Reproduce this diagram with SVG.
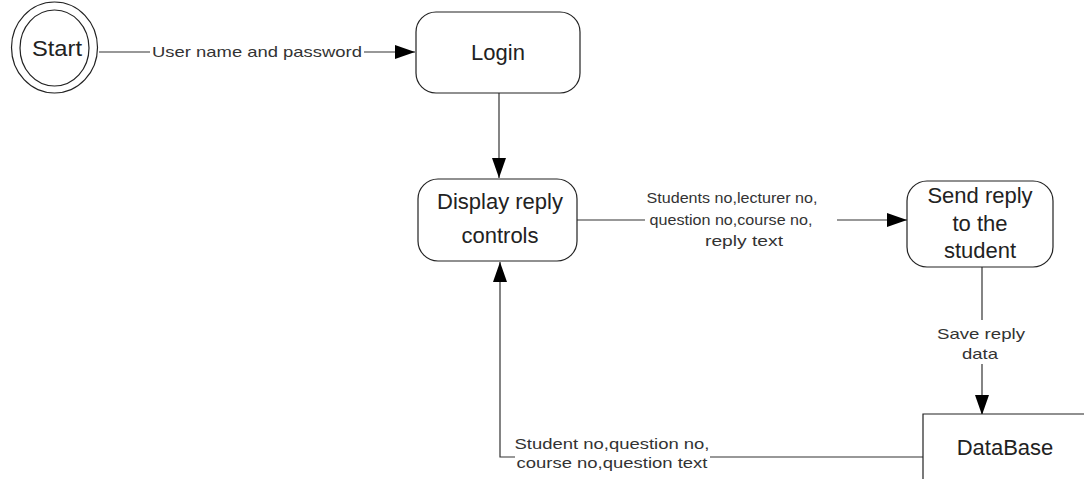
<svg xmlns="http://www.w3.org/2000/svg" width="1084" height="479" viewBox="0 0 1084 479">
  <style>
    .shape { fill: #ffffff; stroke: #222222; stroke-width: 1.2; }
    .node-text { font-family: "Liberation Sans", Arial, sans-serif; font-size: 22px; fill: #222222; text-anchor: middle; }
    .edge { fill: none; stroke: #333333; stroke-width: 1.2; }
    .edge-text { font-family: "Liberation Sans", Arial, sans-serif; font-size: 15px; fill: #333333; text-anchor: middle; }
  </style>
  <defs>
    <marker id="arrow" markerUnits="userSpaceOnUse" markerWidth="21" markerHeight="14" refX="20" refY="7" orient="auto">
      <path d="M0,0 L20,7 L0,14 z" fill="#000000"/>
    </marker>
  </defs>
  <rect width="1084" height="479" fill="#ffffff"/>

  <!-- connectors -->
  <g id="connectors">
    <!-- Start -> Login -->
    <path class="edge" d="M99,52 H150"/>
    <path class="edge" d="M364,52 H415" marker-end="url(#arrow)"/>
    <text class="edge-text" x="257" y="57" textLength="210" lengthAdjust="spacingAndGlyphs">User name and password</text>

    <!-- Login -> Display reply controls -->
    <path class="edge" d="M499,93 V178" marker-end="url(#arrow)"/>

    <!-- Display reply controls -> Send reply -->
    <path class="edge" d="M577,220 H645"/>
    <path class="edge" d="M837,220 H907" marker-end="url(#arrow)"/>
    <text class="edge-text" x="732" y="203" textLength="171" lengthAdjust="spacingAndGlyphs">Students no,lecturer no,</text>
    <text class="edge-text" x="731" y="225" textLength="163" lengthAdjust="spacingAndGlyphs">question no,course no,</text>
    <text class="edge-text" x="744" y="246" textLength="78" lengthAdjust="spacingAndGlyphs">reply text</text>

    <!-- Send reply -> DataBase -->
    <path class="edge" d="M982,267 V320"/>
    <path class="edge" d="M982,364 V415" marker-end="url(#arrow)"/>
    <text class="edge-text" x="981" y="339" textLength="88" lengthAdjust="spacingAndGlyphs">Save reply</text>
    <text class="edge-text" x="980" y="359" textLength="36" lengthAdjust="spacingAndGlyphs">data</text>

    <!-- DataBase -> Display reply controls -->
    <path class="edge" d="M923,457 H710"/>
    <path class="edge" d="M515,457 H500 V262" marker-end="url(#arrow)"/>
    <text class="edge-text" x="612" y="449" textLength="195" lengthAdjust="spacingAndGlyphs">Student no,question no,</text>
    <text class="edge-text" x="612" y="468" textLength="191" lengthAdjust="spacingAndGlyphs">course no,question text</text>
  </g>

  <!-- nodes -->
  <g id="start">
    <ellipse class="shape" cx="54.5" cy="47.5" rx="43" ry="45.5"/>
    <ellipse class="shape" cx="54.5" cy="48" rx="34.5" ry="38"/>
    <text class="node-text" x="57" y="56" textLength="50" lengthAdjust="spacingAndGlyphs">Start</text>
  </g>

  <g id="login">
    <rect class="shape" x="416" y="12" width="164" height="81" rx="20" ry="20"/>
    <text class="node-text" x="498" y="60">Login</text>
  </g>

  <g id="display-reply-controls">
    <rect class="shape" x="418" y="179" width="159" height="82" rx="20" ry="20"/>
    <text class="node-text" x="500" y="209">Display reply</text>
    <text class="node-text" x="500" y="243">controls</text>
  </g>

  <g id="send-reply">
    <rect class="shape" x="907" y="181" width="146" height="86" rx="20" ry="20"/>
    <text class="node-text" x="980" y="203">Send reply</text>
    <text class="node-text" x="980" y="231">to the</text>
    <text class="node-text" x="980" y="258">student</text>
  </g>

  <g id="database">
    <path class="shape" d="M923,479 V414 H1084"/>
    <text class="node-text" x="1005" y="455">DataBase</text>
  </g>
</svg>
